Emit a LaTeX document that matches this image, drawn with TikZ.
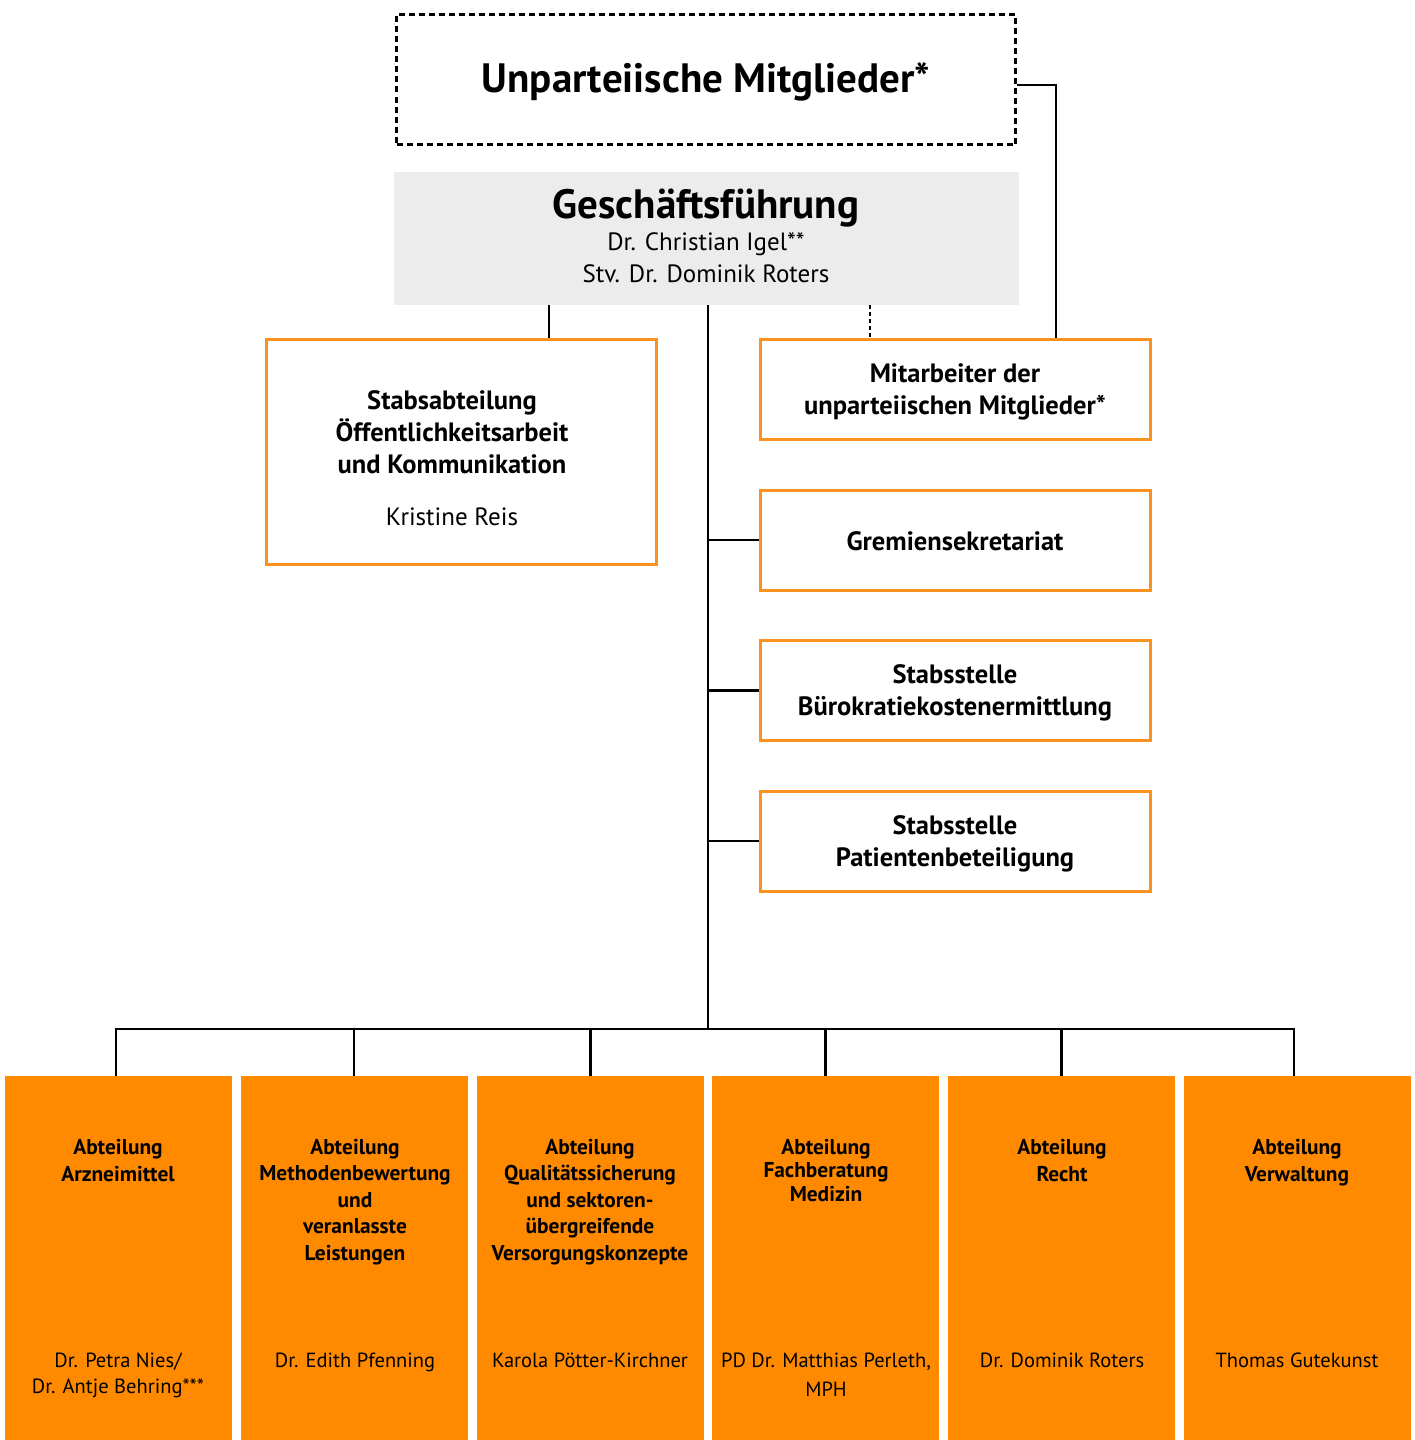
\documentclass[tikz,border=0pt]{standalone}
\usepackage{fontspec}
\setmainfont{PT Sans}
\definecolor{orfill}{HTML}{FF8A00}
\definecolor{orline}{HTML}{F7931E}
\definecolor{gfill}{HTML}{ECECEC}
\begin{document}
\begin{tikzpicture}[x=1pt,y=-1pt,
  conn/.style={line width=2.8pt, black},
  dotconn/.style={line width=2.8pt, black, dash pattern=on 4pt off 3pt},
  dbox/.style={draw=black, line width=3pt, dash pattern=on 6pt off 4pt, inner sep=0pt, minimum width=619pt, minimum height=130pt},
  obox/.style={draw=orline, line width=3pt, inner sep=0pt, minimum width=390pt},
  fbox/.style={fill=orfill, inner sep=0pt, minimum width=227pt, minimum height=364pt},
  bigt/.style={anchor=base, font=\bfseries\fontsize{41}{44}\selectfont},
  boxt/.style={anchor=base, align=center, font=\bfseries\fontsize{26.5}{32}\selectfont},
  namet/.style={anchor=base, align=center, font=\fontsize{25}{32}\selectfont},
  abt/.style={anchor=base, align=center, font=\bfseries\fontsize{21.4}{26.5}\selectfont},
  abn/.style={anchor=base, align=center, font=\fontsize{20.5}{26}\selectfont}
]
\useasboundingbox (0,0) rectangle (1415,1440);
% top boxes
\node[dbox] (um) at (706,79.5) {};
\node[bigt] (umt) at (706,92) {Unparteiische Mitglieder*};
\node[fill=gfill, minimum width=625pt, minimum height=133pt, inner sep=0pt] (gf) at (706.5,238.5) {};
\node[bigt] (gft) at (706,218) {Geschäftsführung};
\node[namet] (gfn) at (706,282) {Dr. Christian Igel**\\Stv. Dr. Dominik Roters};
% connectors
\coordinate (sj) at (549,338);
\coordinate (dj) at (870,338);
\coordinate (bus) at (708,1029);
% staff boxes
\node[obox, minimum height=225pt] (stab) at (461.5,451.5) {};
\node[boxt] (stabt) at (452,473) {Stabsabteilung\\Öffentlichkeitsarbeit\\und Kommunikation};
\node[namet] (stabn) at (452,525) {Kristine Reis};
\node[obox, minimum height=100pt] (mit) at (955.5,389.5) {};
\node[boxt] (mitt) at (955,414) {Mitarbeiter der\\unparteiischen Mitglieder*};
\node[obox, minimum height=100pt] (grem) at (955.5,540) {};
\node[boxt] (gremt) at (955,550) {Gremiensekretariat};
\node[obox, minimum height=100pt] (buro) at (955.5,690.5) {};
\node[boxt] (burot) at (955,715) {Stabsstelle\\Bürokratiekostenermittlung};
\node[obox, minimum height=100pt] (pat) at (955.5,841) {};
\node[boxt] (patt) at (955,866) {Stabsstelle\\Patientenbeteiligung};
% departments
\node[fbox] (a1) at (118.5,1258) {};
\node[fbox] (a2) at (354,1258) {};
\node[fbox] (a3) at (590.5,1258) {};
\node[fbox] (a4) at (825.5,1258) {};
\node[fbox] (a5) at (1061.5,1258) {};
\node[fbox] (a6) at (1297.5,1258) {};
\node[abt] (a1t) at (118,1181) {Abteilung\\Arzneimittel};
\node[abn] (a1n) at (118,1393) {Dr. Petra Nies/\\Dr. Antje Behring***};
\node[abt] (a2t) at (355,1260) {Abteilung\\Methodenbewertung\\und\\veranlasste\\Leistungen};
\node[abn] (a2n) at (355,1367) {Dr. Edith Pfenning};
\node[abt] (a3t) at (590,1260) {Abteilung\\Qualitätssicherung\\und sektoren-\\übergreifende\\Versorgungskonzepte};
\node[abn] (a3n) at (590,1367) {Karola Pötter-Kirchner};
\node[abt, font=\bfseries\fontsize{21.4}{23.5}\selectfont] (a4t) at (826,1201) {Abteilung\\Fachberatung\\Medizin};
\node[abn, font=\fontsize{20.5}{29}\selectfont] (a4n) at (826,1396) {PD Dr. Matthias Perleth,\\MPH};
\node[abt] (a5t) at (1062,1181) {Abteilung\\Recht};
\node[abn] (a5n) at (1062,1367) {Dr. Dominik Roters};
\node[abt] (a6t) at (1297,1181) {Abteilung\\Verwaltung};
\node[abn] (a6n) at (1297,1367) {Thomas Gutekunst};
\draw[conn] ([yshift=-5.5pt]um.east) -| ([xshift=100.5pt]mit.north);
\draw[conn] (sj |- gf.south) -- (sj);
\draw[dotconn] (dj |- gf.south) -- (dj);
\draw[conn] (bus |- gf.south) -- (bus);
\draw[conn] (bus |- grem.west) -- (grem.west);
\draw[conn] (bus |- buro.west) -- (buro.west);
\draw[conn] (bus |- pat.west) -- (pat.west);
\draw[conn] ([xshift=-2.5pt]a1.north) |- (bus) -| ([xshift=-3.5pt]a6.north);
\draw[conn] (a2.north) -- (a2.north |- bus);
\draw[conn] (a3.north) -- (a3.north |- bus);
\draw[conn] (a4.north) -- (a4.north |- bus);
\draw[conn] (a5.north) -- (a5.north |- bus);
\end{tikzpicture}
\end{document}
